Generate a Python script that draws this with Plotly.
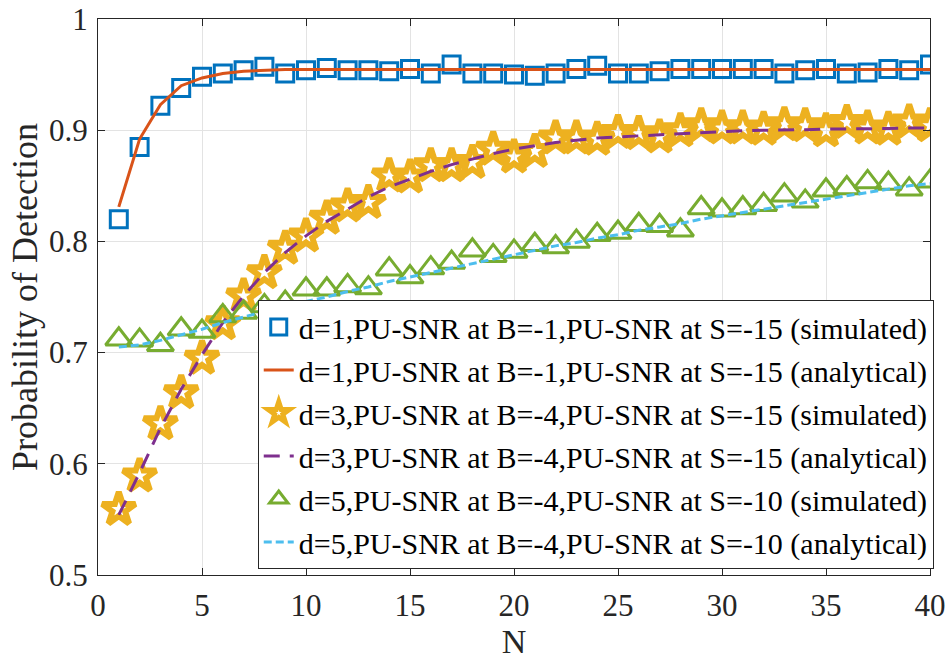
import plotly.graph_objects as go

N = list(range(1, 41))

# d=1 simulated (squares) and analytical
d1_sim = [0.820, 0.885, 0.922, 0.938, 0.948, 0.951, 0.954, 0.957, 0.951, 0.954,
          0.956, 0.954, 0.954, 0.953, 0.955, 0.951, 0.959, 0.951, 0.951, 0.950,
          0.949, 0.951, 0.955, 0.958, 0.951, 0.951, 0.953, 0.955, 0.955, 0.955,
          0.955, 0.955, 0.951, 0.954, 0.955, 0.951, 0.952, 0.955, 0.954, 0.959]
d1_ana = [0.831, 0.892, 0.923, 0.940, 0.947, 0.951, 0.953, 0.954, 0.9545, 0.9545,
          0.9545, 0.9545, 0.9545, 0.9545, 0.9545, 0.9545, 0.9545, 0.9545, 0.9545, 0.9545,
          0.9545, 0.9545, 0.9545, 0.9545, 0.9545, 0.9545, 0.9545, 0.9545, 0.9545, 0.9545,
          0.9545, 0.9545, 0.9545, 0.9545, 0.9545, 0.9545, 0.9545, 0.9545, 0.9545, 0.9545]

# d=3 simulated (stars) and analytical
d3_sim = [0.559, 0.589, 0.636, 0.664, 0.695, 0.726, 0.751, 0.772, 0.794, 0.805,
          0.821, 0.832, 0.835, 0.859, 0.858, 0.868, 0.868, 0.871, 0.883, 0.876,
          0.881, 0.893, 0.893, 0.892, 0.898, 0.897, 0.894, 0.8995, 0.904, 0.902,
          0.902, 0.901, 0.905, 0.904, 0.8995, 0.907, 0.902, 0.901, 0.9075, 0.904]
d3_ana = [0.554, 0.592, 0.632, 0.667, 0.698, 0.727, 0.751, 0.772, 0.790, 0.805,
          0.818, 0.829, 0.840, 0.849, 0.856, 0.863, 0.869, 0.874, 0.879, 0.883,
          0.886, 0.889, 0.891, 0.893, 0.894, 0.895, 0.896, 0.897, 0.898, 0.899,
          0.8995, 0.900, 0.900, 0.9005, 0.901, 0.901, 0.9015, 0.9015, 0.902, 0.902]

# d=5 simulated (triangles) and analytical
d5_sim = [0.712, 0.711, 0.707, 0.721, 0.719, 0.733, 0.736, 0.742, 0.745, 0.757,
          0.757, 0.760, 0.758, 0.775, 0.768, 0.776, 0.781, 0.792, 0.787, 0.791,
          0.797, 0.795, 0.800, 0.806, 0.808, 0.815, 0.814, 0.810, 0.830, 0.828,
          0.830, 0.833, 0.8416, 0.836, 0.846, 0.848, 0.8535, 0.852, 0.847, 0.854]
d5_ana = [0.705, 0.707, 0.711, 0.716, 0.721, 0.727, 0.732, 0.737, 0.741, 0.746,
          0.750, 0.755, 0.759, 0.764, 0.768, 0.772, 0.776, 0.780, 0.784, 0.788,
          0.792, 0.796, 0.799, 0.803, 0.806, 0.810, 0.813, 0.816, 0.820, 0.823,
          0.826, 0.829, 0.832, 0.835, 0.838, 0.841, 0.844, 0.847, 0.850, 0.852]

names = [
    "d=1,PU-SNR at B=-1,PU-SNR at S=-15 (simulated)",
    "d=1,PU-SNR at B=-1,PU-SNR at S=-15 (analytical)",
    "d=3,PU-SNR at B=-4,PU-SNR at S=-15 (simulated)",
    "d=3,PU-SNR at B=-4,PU-SNR at S=-15 (analytical)",
    "d=5,PU-SNR at B=-4,PU-SNR at S=-10 (simulated)",
    "d=5,PU-SNR at B=-4,PU-SNR at S=-10 (analytical)",
]

BLUE = "#0072BD"; ORANGE = "#D95319"; YELLOW = "#EDB120"
PURPLE = "#7E2F8E"; GREEN = "#77AC30"; CYAN = "#4DBEEE"

fig = go.Figure()
fig.add_trace(go.Scatter(x=N, y=d1_sim, mode="markers", name=names[0], legendgroup="a",
                         marker=dict(symbol="square-open", size=17, color=BLUE,
                                     line=dict(width=3, color=BLUE))))
fig.add_trace(go.Scatter(x=N, y=d1_ana, mode="lines", name=names[1], legendgroup="b",
                         line=dict(color=ORANGE, width=3)))
fig.add_trace(go.Scatter(x=N, y=d3_sim, mode="markers", name=names[2], legendgroup="c",
                         marker=dict(symbol="star-open", size=25, color=YELLOW,
                                     line=dict(width=6, color=YELLOW))))
fig.add_trace(go.Scatter(x=N, y=d3_ana, mode="lines", name=names[3], legendgroup="d",
                         line=dict(color=PURPLE, width=3, dash="16px,10px")))
fig.add_trace(go.Scatter(x=N, y=d5_sim, mode="markers", name=names[4], legendgroup="e",
                         marker=dict(symbol="triangle-up-open", size=23, color=GREEN,
                                     line=dict(width=3, color=GREEN))))
fig.add_trace(go.Scatter(x=N, y=d5_ana, mode="lines", name=names[5], legendgroup="f",
                         line=dict(color=CYAN, width=3, dash="8px,4px")))

FONT = "Liberation Serif"
axis_common = dict(showgrid=True, gridcolor="#e3e3e3", gridwidth=1,
                   showline=True, linecolor="#262626", linewidth=1, mirror="ticks",
                   ticks="inside", ticklen=7, tickcolor="#262626", zeroline=False,
                   ticklabeloverflow="allow", automargin=False,
                   tickfont=dict(family=FONT, size=31, color="#262626"))

fig.update_layout(
    width=952, height=662,
    margin=dict(l=98, r=22, t=19, b=87),
    paper_bgcolor="white", plot_bgcolor="white",
    font=dict(family=FONT, color="#262626"),
    xaxis=dict(range=[0, 40], tickvals=[0, 5, 10, 15, 20, 25, 30, 35, 40],
               ticklabelstandoff=3,
               title=dict(text="N", font=dict(family=FONT, size=34), standoff=0),
               **axis_common),
    yaxis=dict(range=[0.5, 1], tickvals=[0.5, 0.6, 0.7, 0.8, 0.9, 1],
               ticktext=["0.5", "0.6", "0.7", "0.8", "0.9", "1"],
               ticklabelstandoff=3,
               title=dict(text="Probability of Detection", font=dict(family=FONT, size=36), standoff=0),
               **axis_common),
    legend=dict(x=0.192, y=0.4946, xanchor="left", yanchor="top",
                bgcolor="white", bordercolor="#262626", borderwidth=1,
                font=dict(family=FONT, size=30, color="#000000"),
                tracegroupgap=1, itemwidth=30),
    showlegend=True,
)

fig.write_html("out.html")
